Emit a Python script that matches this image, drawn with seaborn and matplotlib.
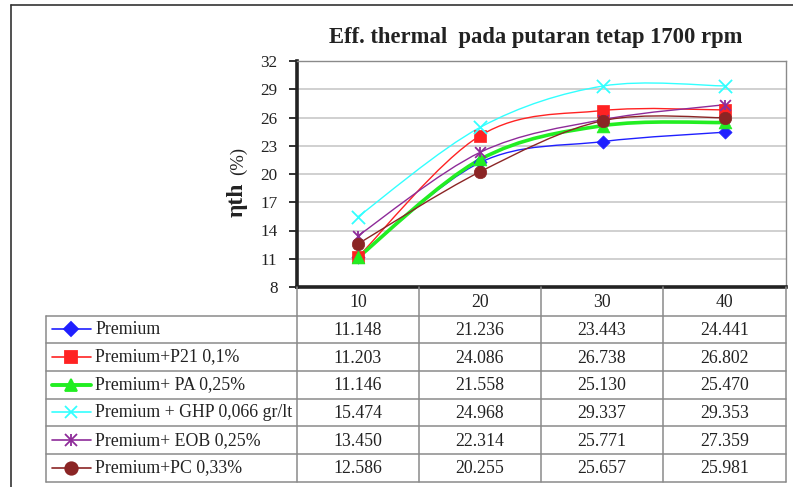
import numpy as np
import matplotlib
matplotlib.use("Agg")
import matplotlib.pyplot as plt
from matplotlib.path import Path
from matplotlib.patches import PathPatch
from matplotlib.lines import Line2D
import seaborn as sns

# ---------------- data ----------------
x_labels = ["10", "20", "30", "40"]
series_names = ["Premium", "Premium+P21 0,1%", "Premium+ PA 0,25%",
                "Premium + GHP 0,066 gr/lt", "Premium+ EOB 0,25%", "Premium+PC 0,33%"]
premium = [11.148, 21.236, 23.443, 24.441]
premium_p21 = [11.203, 24.086, 26.738, 26.802]
premium_pa = [11.146, 21.558, 25.130, 25.470]
premium_ghp = [15.474, 24.968, 29.337, 29.353]
premium_eob = [13.450, 22.314, 25.771, 27.359]
premium_pc = [12.586, 20.255, 25.657, 25.981]
y_ticks = [8, 11, 14, 17, 20, 23, 26, 29, 32]

all_series = [premium, premium_p21, premium_pa, premium_ghp, premium_eob, premium_pc]
colors = ["#1f1fff", "#ff2222", "#22ee22", "#33ffff", "#8e2b99", "#8b2525"]
markers = ["D", "s", "^", "x", "x", "o"]
msizes = [45, 70, 85, 90, 60, 80]
lws = [1.0, 1.0, 2.6, 1.0, 1.0, 1.0]

sns.set_theme(style="white")
plt.rcParams["font.family"] = ["Liberation Serif", "DejaVu Serif"]

W, H = 793, 487
fig = plt.figure(figsize=(W / 100, H / 100), dpi=100)
fig.patch.set_facecolor("white")

def fx(x):
    return x / W

def fy(y):
    return 1 - y / H

ax_l, ax_r, ax_t, ax_b = 297, 786, 61, 287
ax = fig.add_axes([fx(ax_l), fy(ax_b), (ax_r - ax_l) / W, (ax_b - ax_t) / H])
ax.set_facecolor("white")

xpos = np.arange(len(x_labels))

def smooth_path(xs, ys):
    pts = np.column_stack([xs, ys]).astype(float)
    n = len(pts)
    verts = [pts[0]]
    codes = [Path.MOVETO]
    for i in range(n - 1):
        p0 = pts[i - 1] if i > 0 else pts[i]
        p1 = pts[i]
        p2 = pts[i + 1]
        p3 = pts[i + 2] if i + 2 < n else pts[i + 1]
        c1 = p1 + (p2 - p0) / 6.0
        c2 = p2 - (p3 - p1) / 6.0
        verts += [c1, c2, p2]
        codes += [Path.CURVE4] * 3
    return Path(verts, codes)

for vals, c, m, s, lw in zip(all_series, colors, markers, msizes, lws):
    ax.add_patch(PathPatch(smooth_path(xpos, vals), facecolor="none",
                           edgecolor=c, lw=lw, zorder=3))
for vals, c, m, s, name in zip(all_series, colors, markers, msizes, series_names):
    if m == "x":
        sns.scatterplot(x=xpos, y=vals, marker="x", s=s, color=c,
                        linewidth=1.3, ax=ax, zorder=4)
        if "EOB" in name:
            sns.scatterplot(x=xpos, y=vals, marker="|", s=s * 0.9, color=c,
                            linewidth=1.3, ax=ax, zorder=4)
    else:
        sns.scatterplot(x=xpos, y=vals, marker=m, s=s, color=c,
                        edgecolor=c, linewidth=0.5, ax=ax, zorder=4)

ax.set_xlim(-0.5, len(x_labels) - 0.5)
ax.set_ylim(8, 32)
ax.set_yticks(y_ticks)
ax.set_yticklabels([str(t) for t in y_ticks], fontsize=12.3, color="#222222")
ax.set_xticks([])
ax.yaxis.grid(True, color="#c8c8c8", lw=1.2)
ax.set_axisbelow(True)
ax.tick_params(axis="y", direction="out", length=6, width=1.3, color="#222222",
               left=True, pad=8)
ax.spines["left"].set_color("#222222")
ax.spines["left"].set_linewidth(2.6)
ax.spines["bottom"].set_color("#222222")
ax.spines["bottom"].set_linewidth(2.6)
ax.spines["top"].set_color("#8a8a8a")
ax.spines["top"].set_linewidth(1.0)
ax.spines["right"].set_color("#8a8a8a")
ax.spines["right"].set_linewidth(1.0)
ax.set_xlabel("")
ax.set_ylabel("")

# title
fig.text(fx(536), fy(37), "Eff. thermal  pada putaran tetap 1700 rpm",
         ha="center", va="center", fontsize=16.3, fontweight="bold", color="#222222")
# y label
fig.text(fx(237), fy(200), "ηth", rotation=90, ha="center", va="center",
         fontsize=17, fontweight="bold", color="#222222")
fig.text(fx(238), fy(161), "(%)", rotation=90, ha="center", va="center",
         fontsize=13.5, color="#222222")

# outer frame
fig.add_artist(Line2D([fx(11), fx(11)], [fy(5), fy(487)], color="#333333", lw=1.2))
fig.add_artist(Line2D([fx(11), fx(793)], [fy(5), fy(5)], color="#333333", lw=1.2))

# data table
col_edges = [297, 419, 541, 663, 786]
row_top = 315.5
row_h = 27.7
nrows = len(series_names)
tab_left = 46
grid_c = "#8a8a8a"
tfs = 12.8
for k in range(nrows + 1):
    y = row_top + k * row_h
    fig.add_artist(Line2D([fx(tab_left), fx(786)], [fy(y), fy(y)], color=grid_c, lw=1.1))
fig.add_artist(Line2D([fx(tab_left), fx(tab_left)], [fy(row_top), fy(row_top + nrows * row_h)],
                      color=grid_c, lw=1.1))
for xe in col_edges:
    fig.add_artist(Line2D([fx(xe), fx(xe)], [fy(ax_b), fy(row_top + nrows * row_h)],
                          color=grid_c, lw=1.1))
for j, lab in enumerate(x_labels):
    cx = (col_edges[j] + col_edges[j + 1]) / 2
    fig.text(fx(cx), fy((ax_b + row_top) / 2 + 1), lab, ha="center", va="center",
             fontsize=tfs, color="#222222")
for i, (name, vals, c, m, lw) in enumerate(zip(series_names, all_series, colors, markers, lws)):
    cy = row_top + (i + 0.5) * row_h
    fig.add_artist(Line2D([fx(52), fx(91)], [fy(cy), fy(cy)], color=c, lw=lw + 0.2))
    ms = {"D": 7, "s": 8.5, "^": 9, "x": 9, "o": 9}[m]
    fig.add_artist(Line2D([fx(71)], [fy(cy)], color=c, marker=m, markersize=ms,
                          markeredgewidth=1.3, linestyle="none"))
    if "EOB" in name:
        fig.add_artist(Line2D([fx(71)], [fy(cy)], color=c, marker="|", markersize=8,
                              markeredgewidth=1.3, linestyle="none"))
    fig.text(fx(95), fy(cy), name, ha="left", va="center", fontsize=tfs, color="#222222")
    for j, v in enumerate(vals):
        cx = (col_edges[j] + col_edges[j + 1]) / 2
        fig.text(fx(cx), fy(cy + 1), f"{v:.3f}", ha="center", va="center",
                 fontsize=tfs, color="#222222")

fig.savefig("out.png", dpi=100, facecolor="white")
